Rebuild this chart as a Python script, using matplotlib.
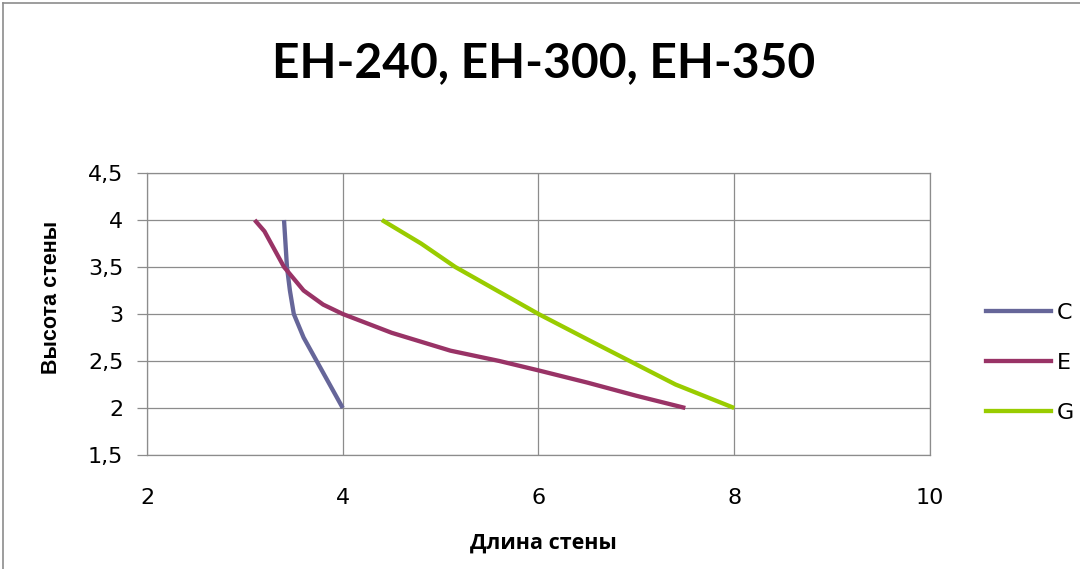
import matplotlib
matplotlib.use("Agg")
import matplotlib.pyplot as plt
from matplotlib.lines import Line2D
from matplotlib.ticker import FuncFormatter

# Data
c_x = [4.0, 3.6, 3.5, 3.46, 3.43, 3.4]
c_y = [2.0, 2.75, 3.0, 3.25, 3.5, 4.0]

e_x = [7.5, 7.0, 6.5, 6.0, 5.6, 5.1, 4.5, 4.0, 3.8, 3.6, 3.4, 3.2, 3.1]
e_y = [2.0, 2.13, 2.27, 2.4, 2.5, 2.61, 2.8, 3.0, 3.1, 3.25, 3.5, 3.88, 4.0]

g_x = [8.0, 7.4, 6.5, 6.0, 5.15, 4.8, 4.4]
g_y = [2.0, 2.25, 2.73, 3.0, 3.5, 3.75, 4.0]

series_names = ["C", "E", "G"]
colors = ["#666699", "#993366", "#99CC00"]

x_ticks = [2, 4, 6, 8, 10]
y_ticks = [1.5, 2, 2.5, 3, 3.5, 4, 4.5]

title = "EH-240, EH-300, EH-350"
x_label = "Длина стены"
y_label = "Высота стены"

fig = plt.figure(figsize=(10.8, 5.69), dpi=100)
ax = fig.add_axes([147/1080, 1 - 455/569, (930-147)/1080, (455-173)/569])

for xs, ys, name, col in zip([c_x, e_x, g_x], [c_y, e_y, g_y], series_names, colors):
    ax.plot(xs, ys, color=col, lw=3.1, label=name, solid_capstyle="butt")

ax.set_xlim(2, 10)
ax.set_ylim(1.5, 4.5)
ax.set_xticks(x_ticks)
ax.set_yticks(y_ticks)
fmt = FuncFormatter(lambda v, p: (("%g" % v).replace(".", ",")))
ax.xaxis.set_major_formatter(fmt)
ax.yaxis.set_major_formatter(fmt)
ax.grid(True, color="#8c8c8c", lw=0.9)
ax.set_axisbelow(True)
for s in ["top", "right", "bottom", "left"]:
    ax.spines[s].set_color("#8c8c8c")
    ax.spines[s].set_linewidth(0.9)
ax.tick_params(axis="y", length=7, color="#8c8c8c", width=0.9, labelsize=16, pad=10)
ax.tick_params(axis="x", length=0, labelsize=16, pad=24)

fig.text(0.503, 1 - 63/569, title, ha="center", va="center", fontsize=34.5,
         fontweight="bold", family="Lato")
fig.text(543/1080, 1 - 543/569, x_label, ha="center", va="center", fontsize=15.5,
         fontweight="bold", family="Open Sans")
fig.text(52/1080, 1 - 297/569, y_label, ha="center", va="center", fontsize=15.5,
         fontweight="bold", family="Liberation Sans", rotation=90)

handles = [Line2D([0], [0], color=c, lw=3.1) for c in colors]
fig.legend(handles, series_names, loc="center left",
           bbox_to_anchor=(975/1080, 1 - 363/569), frameon=False, fontsize=16,
           handlelength=2.9, handletextpad=0.3, labelspacing=1.35, borderpad=0)

fig.add_artist(Line2D([3/1080, 3/1080], [0, 1 - 3/569], color="#8c8c8c", lw=1.2,
                      transform=fig.transFigure))
fig.add_artist(Line2D([3/1080, 1], [1 - 3/569, 1 - 3/569], color="#8c8c8c", lw=1.2,
                      transform=fig.transFigure))

fig.savefig("out.png", dpi=100)
